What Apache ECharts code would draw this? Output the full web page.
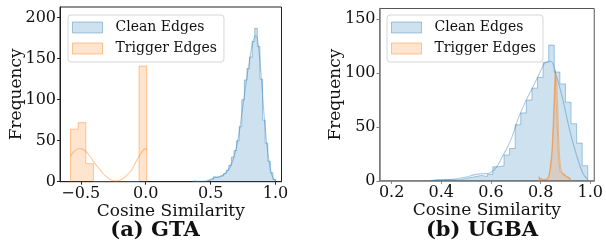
<!DOCTYPE html>
<html>
<head>
<meta charset="utf-8">
<script src="https://cdn.jsdelivr.net/npm/echarts@6/dist/echarts.min.js"></script>
<style>
html,body{margin:0;padding:0;background:#fff}
#chart{width:606px;height:250px}
</style>
</head>
<body>
<div id="chart"></div>
<script>
// (a) GTA - histogram bins (start, width, counts) and kde samples
var gtaCleanStart = 0.36, gtaCleanWidth = 0.02;
var gtaCleanCounts = [1,0,0,0,0,1,2,3,6,5,7,7,10,14,20,30,38,50,67,100,124,138,152,171,187,165,125,75,47,25,11,3];
var gtaCleanKdeX = [0.36,0.40,0.44,0.48,0.51,0.54,0.57,0.60,0.63,0.66,0.69,0.72,0.75,0.78,0.81,0.83,0.85,0.87,0.89,0.91,0.93,0.95,0.97,0.99,1.00];
var gtaCleanKdeY = [0.5,0.4,0.6,1.5,3.5,5,6.5,8.5,13,21,36,60,94,128,158,173,178,163,128,85,50,25,9,2,1];

var gtaTrigStart = -0.579, gtaTrigWidth = 0.0587;
var gtaTrigCounts = [64,72,22,0,0,0,0,0,0,141];
var gtaTrigKdeX = [-0.579,-0.55,-0.51,-0.47,-0.43,-0.39,-0.35,-0.31,-0.27,-0.23,-0.19,-0.15,-0.11,-0.07,-0.03,-0.005,0.008];
var gtaTrigKdeY = [31,37,40.5,38,31,22,14,7,2.5,1,2.5,7,14,26,36,40,39];

// (b) UGBA
var ugbaCleanStart = 0.36, ugbaCleanWidth = 0.0225;
var ugbaCleanCounts = [1,1,1,1,1,2,3,4,5,4,6,13,14,24,30,52,63,75,86,96,110,126,101,90,73,53,35,14];
var ugbaCleanKdeX = [0.36,0.40,0.45,0.50,0.53,0.56,0.59,0.62,0.645,0.68,0.71,0.74,0.775,0.80,0.82,0.84,0.865,0.89,0.917,0.943,0.97,0.99];
var ugbaCleanKdeY = [0.5,0.8,1.5,3.5,5.5,6.5,7,12,22,38,58,74,90,102,110,111,96,75,47,25,7,1];

var ugbaTrigStart = 0.7935, ugbaTrigWidth = 0.0065;
var ugbaTrigCounts = [4,2,1,0,1,1,3,13,28,62,103,60,22,9,7,6,5,4,3,1];
var ugbaTrigKdeX = [0.7935,0.80,0.81,0.82,0.83,0.838,0.845,0.852,0.858,0.862,0.866,0.871,0.877,0.884,0.892,0.90,0.91,0.9235];
var ugbaTrigKdeY = [2,2,1,1.5,3,9,22,50,85,97,85,50,20,9,6,4.5,3,1];

// axis ticks
var gtaXTicks = [-0.5, 0.0, 0.5, 1.0];
var gtaYTicks = [0, 50, 100, 150, 200];
var ugbaXTicks = [0.2, 0.4, 0.6, 0.8, 1.0];
var ugbaYTicks = [0, 50, 100, 150];

var legendNames = ['Clean Edges', 'Trigger Edges'];
var captions = ['(a) GTA', '(b) UGBA'];

var blueFill = 'rgba(31,119,180,0.22)', blueLine = 'rgba(31,119,180,0.38)';
var orangeFill = 'rgba(255,127,14,0.2)', orangeLine = 'rgba(255,127,14,0.42)';
var serif = '"DejaVu Serif", serif';

function histSteps(start, width, counts) {
	var pts = [[start, 0]];
	for (var i = 0; i < counts.length; i++) {
		pts.push([start + i * width, counts[i]]);
	}
	var end = start + counts.length * width;
	pts.push([end, counts[counts.length - 1]]);
	pts.push([end, 0]);
	return pts;
}
function zip(xs, ys) {
	var out = [];
	for (var i = 0; i < xs.length; i++) out.push([xs[i], ys[i]]);
	return out;
}
function fmt(v) {
	return (v < 0 ? '\u2212' : '') + Math.abs(v).toFixed(1);
}

function histSeries(name, idx, pts, line, fill) {
	return {
		name: name, type: 'line', step: 'end', xAxisIndex: idx, yAxisIndex: idx,
		data: pts, symbol: 'none', silent: true,
		lineStyle: {color: line, width: 1},
		areaStyle: {color: fill, opacity: 1}
	};
}
function kdeSeries(name, idx, pts, line) {
	return {
		name: name, type: 'line', smooth: 0.4, xAxisIndex: idx, yAxisIndex: idx,
		data: pts, symbol: 'none', silent: true,
		lineStyle: {color: line, width: 1.1}
	};
}

function xAxisOpt(idx, min, max, ticks, lineColor, lineW) {
	return {
		type: 'value', gridIndex: idx, min: min, max: max,
		name: 'Cosine Similarity', nameLocation: 'middle', nameGap: 21, nameMoveOverlap: false,
		nameTextStyle: {fontFamily: serif, fontSize: 17, color: '#111'},
		splitLine: {show: false},
		axisLine: {show: true, onZero: false, lineStyle: {color: lineColor, width: lineW}},
		axisTick: {show: true, length: 3, customValues: ticks, lineStyle: {color: lineColor}},
		axisLabel: {customValues: ticks, formatter: fmt, margin: 4,
			fontFamily: serif, fontSize: 16, color: '#111'}
	};
}
function yAxisOpt(idx, max, ticks, lineColor, lineW) {
	return {
		type: 'value', gridIndex: idx, min: 0, max: max,
		name: 'Frequency', nameLocation: 'middle', nameGap: 35, nameMoveOverlap: false,
		nameTextStyle: {fontFamily: serif, fontSize: 17, color: '#111'},
		splitLine: {show: false},
		axisLine: {show: true, onZero: false, lineStyle: {color: lineColor, width: lineW}},
		axisTick: {show: true, length: 3, customValues: ticks, lineStyle: {color: lineColor}},
		axisLabel: {customValues: ticks, margin: 4,
			fontFamily: serif, fontSize: 16, color: '#111'}
	};
}
function legendOpt(left) {
	return {
		left: left, top: 15, orient: 'vertical',
		itemWidth: 30, itemHeight: 11, itemGap: 4,
		padding: [4, 7, 5, 4],
		backgroundColor: 'rgba(255,255,255,0.8)',
		borderColor: '#d6d6d6', borderWidth: 1, borderRadius: 3,
		selectedMode: false,
		textStyle: {fontFamily: serif, fontSize: 14, color: '#111', lineHeight: 17, padding: [0, 0, 0, 8]},
		data: [
			{name: legendNames[0], icon: 'rect', itemStyle: {color: blueFill, borderColor: blueLine, borderWidth: 1, opacity: 1}},
			{name: legendNames[1], icon: 'rect', itemStyle: {color: orangeFill, borderColor: orangeLine, borderWidth: 1, opacity: 1}}
		]
	};
}

var chart = echarts.init(document.getElementById('chart'), null, {renderer: 'canvas'});
chart.setOption({
	animation: false,
	backgroundColor: '#fff',
	grid: [
		{left: 60, top: 7, width: 221.5, height: 174.7, show: true, borderColor: '#222', borderWidth: 1},
		{left: 379.5, top: 8.5, width: 222, height: 172.3, show: true, borderColor: '#555', borderWidth: 1}
	],
	xAxis: [
		xAxisOpt(0, -0.66, 1.046, gtaXTicks, '#222', 1),
		xAxisOpt(1, 0.151, 1.016, ugbaXTicks, '#808080', 1.6)
	],
	yAxis: [
		yAxisOpt(0, 213, gtaYTicks, '#222', 1),
		yAxisOpt(1, 160, ugbaYTicks, '#808080', 1.6)
	],
	legend: [legendOpt(68), legendOpt(387)],
	series: [
		histSeries(legendNames[0], 0, histSteps(gtaCleanStart, gtaCleanWidth, gtaCleanCounts), blueLine, blueFill),
		histSeries(legendNames[1], 0, histSteps(gtaTrigStart, gtaTrigWidth, gtaTrigCounts), orangeLine, orangeFill),
		kdeSeries('gta clean kde', 0, zip(gtaCleanKdeX, gtaCleanKdeY), blueLine),
		kdeSeries('gta trigger kde', 0, zip(gtaTrigKdeX, gtaTrigKdeY), orangeLine),
		histSeries(legendNames[0], 1, histSteps(ugbaCleanStart, ugbaCleanWidth, ugbaCleanCounts), blueLine, blueFill),
		histSeries(legendNames[1], 1, histSteps(ugbaTrigStart, ugbaTrigWidth, ugbaTrigCounts), orangeLine, orangeFill),
		kdeSeries('ugba clean kde', 1, zip(ugbaCleanKdeX, ugbaCleanKdeY), blueLine),
		kdeSeries('ugba trigger kde', 1, zip(ugbaTrigKdeX, ugbaTrigKdeY), orangeLine)
	],
	graphic: [
		{type: 'text', x: 155, y: 231, silent: true,
			style: {text: captions[0], font: 'bold 21px "DejaVu Serif", serif', fill: '#111', align: 'center', verticalAlign: 'middle'}},
		{type: 'text', x: 482, y: 231, silent: true,
			style: {text: captions[1], font: 'bold 21px "DejaVu Serif", serif', fill: '#111', align: 'center', verticalAlign: 'middle'}}
	]
});
</script>
</body>
</html>
